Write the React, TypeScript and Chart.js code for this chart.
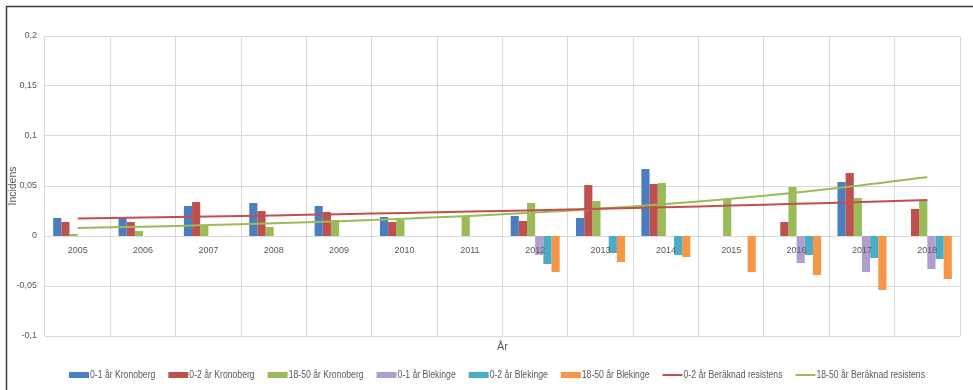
import React, { useEffect, useRef } from "react";
import { Chart, registerables } from "chart.js";

Chart.register(...registerables);

// Years on the category axis
const years = [
  "2005", "2006", "2007", "2008", "2009", "2010", "2011",
  "2012", "2013", "2014", "2015", "2016", "2017", "2018",
];

// Incidence per group and region (null = no bar that year)
const kronoberg01 = [0.018, 0.018, 0.030, 0.033, 0.030, 0.019, null, 0.020, 0.018, 0.067, null, null, 0.054, null];
const kronoberg02 = [0.014, 0.014, 0.034, 0.025, 0.024, 0.014, null, 0.015, 0.051, 0.052, null, 0.014, 0.063, 0.027];
const kronoberg1850 = [0.002, 0.005, 0.011, 0.009, 0.016, 0.016, 0.019, 0.033, 0.035, 0.053, 0.037, 0.049, 0.038, 0.036];
const blekinge01 = [null, null, null, null, null, null, null, -0.019, null, null, null, -0.027, -0.036, -0.033];
const blekinge02 = [null, null, null, null, null, null, null, -0.028, -0.017, -0.019, null, -0.019, -0.022, -0.023];
const blekinge1850 = [null, null, null, null, null, null, null, -0.036, -0.026, -0.021, -0.036, -0.039, -0.054, -0.043];

// Calculated resistance trends
const resistens02 = [0.0175, 0.0185, 0.0195, 0.0206, 0.0218, 0.0231, 0.0244, 0.0258, 0.0272, 0.0288, 0.0304, 0.0322, 0.034, 0.036];
const resistens1850 = [0.008, 0.0093, 0.0109, 0.0127, 0.0148, 0.0173, 0.0201, 0.0235, 0.0274, 0.0319, 0.0373, 0.0435, 0.0507, 0.059];

// Value axis
const yMin = -0.1;
const yMax = 0.2;
const yStep = 0.05;

const FONT = '"Liberation Sans", Arial, sans-serif';
const TEXT = "#595959";
const GRID = "#d9d9d9";

const fmt = (v: number) => {
  const r = Math.round(v * 100) / 100;
  return String(r).replace(".", ",");
};

// White background plus the dark frame on the top and left edges
const framePlugin = {
  id: "frame",
  beforeDraw(chart: any) {
    const { ctx, width, height } = chart;
    ctx.save();
    ctx.fillStyle = "#ffffff";
    ctx.fillRect(0, 0, width, height);
    ctx.strokeStyle = "#3c3c3c";
    ctx.lineWidth = 1.5;
    ctx.beginPath();
    ctx.moveTo(width, 6.5);
    ctx.lineTo(6.5, 6.5);
    ctx.lineTo(6.5, height);
    ctx.stroke();
    ctx.restore();
  },
};

// Axis titles and the bottom legend (condensed lettering)
const annotationsPlugin = {
  id: "annotations",
  afterDraw(chart: any) {
    const { ctx, chartArea } = chart;
    ctx.save();
    ctx.fillStyle = TEXT;

    // y-axis title
    ctx.font = `11px ${FONT}`;
    ctx.textAlign = "center";
    ctx.textBaseline = "middle";
    ctx.save();
    ctx.translate(13, (chartArea.top + chartArea.bottom) / 2);
    ctx.rotate(-Math.PI / 2);
    ctx.scale(0.95, 1);
    ctx.fillText("Incidens", 0, 0);
    ctx.restore();

    // x-axis title
    ctx.fillText("År", (chartArea.left + chartArea.right) / 2, 347);

    // legend
    ctx.font = `10px ${FONT}`;
    const sym = 20;
    const gapText = 1;
    const gapItem = 13;
    const left = 69;
    const right = 925;
    const items = chart.data.datasets.map((ds: any) => ({
      label: ds.label as string,
      color: (ds.type === "line" ? ds.borderColor : ds.backgroundColor) as string,
      line: ds.type === "line",
    }));
    const order = [2, 3, 4, 5, 6, 7, 0, 1];
    const list = order.map((i) => items[i]);
    const natural = list.map((it: any) => ctx.measureText(it.label).width);
    const naturalSum = natural.reduce((a: number, b: number) => a + b, 0);
    const textRoom = right - left - list.length * (sym + gapText) - gapItem * (list.length - 1);
    const f = Math.min(1, textRoom / naturalSum);
    let x = left;
    const y = 375;
    ctx.textAlign = "left";
    list.forEach((it: any, i: number) => {
      if (it.line) {
        ctx.strokeStyle = it.color;
        ctx.lineWidth = 2;
        ctx.beginPath();
        ctx.moveTo(x, y);
        ctx.lineTo(x + sym, y);
        ctx.stroke();
      } else {
        ctx.fillStyle = it.color;
        ctx.fillRect(x, y - 3, sym, 6);
      }
      ctx.fillStyle = TEXT;
      ctx.save();
      ctx.translate(x + sym + gapText, y + 0.5);
      ctx.scale(f, 1);
      ctx.fillText(it.label, 0, 0);
      ctx.restore();
      x += sym + gapText + natural[i] * f + gapItem;
    });
    ctx.restore();
  },
};

export default function App() {
  const canvasRef = useRef<HTMLCanvasElement | null>(null);

  useEffect(() => {
    const canvas = canvasRef.current;
    if (!canvas) return;

    const bar = (label: string, data: (number | null)[], color: string) => ({
      type: "bar" as const,
      label,
      data,
      backgroundColor: color,
      borderWidth: 0,
      order: 1,
      categoryPercentage: 0.75,
      barPercentage: 1,
    });
    const line = (label: string, data: number[], color: string) => ({
      type: "line" as const,
      label,
      data,
      borderColor: color,
      backgroundColor: color,
      borderWidth: 2,
      pointRadius: 0,
      tension: 0.4,
      fill: false,
      order: 0,
    });

    const chart = new Chart(canvas, {
      type: "bar",
      data: {
        labels: years,
        datasets: [
          line("0-2 år Beräknad resistens", resistens02, "#C0504D"),
          line("18-50 år Beräknad resistens", resistens1850, "#9BBB59"),
          bar("0-1 år Kronoberg", kronoberg01, "#4A7EC1"),
          bar("0-2 år Kronoberg", kronoberg02, "#C0504D"),
          bar("18-50 år Kronoberg", kronoberg1850, "#9BBB59"),
          bar("0-1 år Blekinge", blekinge01, "#B09FCC"),
          bar("0-2 år Blekinge", blekinge02, "#4BACC6"),
          bar("18-50 år Blekinge", blekinge1850, "#F79646"),
        ] as any,
      },
      options: {
        animation: false,
        responsive: false,
        maintainAspectRatio: false,
        devicePixelRatio: 1,
        layout: { padding: { left: 0, top: 36, right: 13, bottom: 54 } },
        plugins: {
          legend: { display: false },
          tooltip: { enabled: false },
          title: { display: false },
        },
        scales: {
          x: {
            type: "category",
            offset: true,
            position: { y: 0 } as any,
            grid: {
              display: true,
              offset: true,
              color: GRID,
              lineWidth: 1,
              drawTicks: false,
            },
            border: { display: true, color: GRID, width: 1 },
            ticks: {
              z: 1,
              color: TEXT,
              font: { family: FONT, size: 9 },
              padding: 9,
              maxRotation: 0,
              autoSkip: false,
            },
          },
          y: {
            min: yMin,
            max: yMax,
            grid: { color: GRID, lineWidth: 1, drawTicks: false },
            border: { display: false },
            ticks: {
              stepSize: yStep,
              color: TEXT,
              font: { family: FONT, size: 9 },
              padding: 8,
              callback: (v: any) => fmt(Number(v)),
            },
            afterFit: (scale: any) => {
              scale.width = 45;
            },
          },
        },
      },
      plugins: [framePlugin, annotationsPlugin],
    });

    return () => chart.destroy();
  }, []);

  return (
    <div style={{ position: "fixed", left: 0, top: 0, width: 973, height: 390, background: "#fff" }}>
      <canvas ref={canvasRef} width={973} height={390} style={{ display: "block", width: 973, height: 390 }} />
    </div>
  );
}
